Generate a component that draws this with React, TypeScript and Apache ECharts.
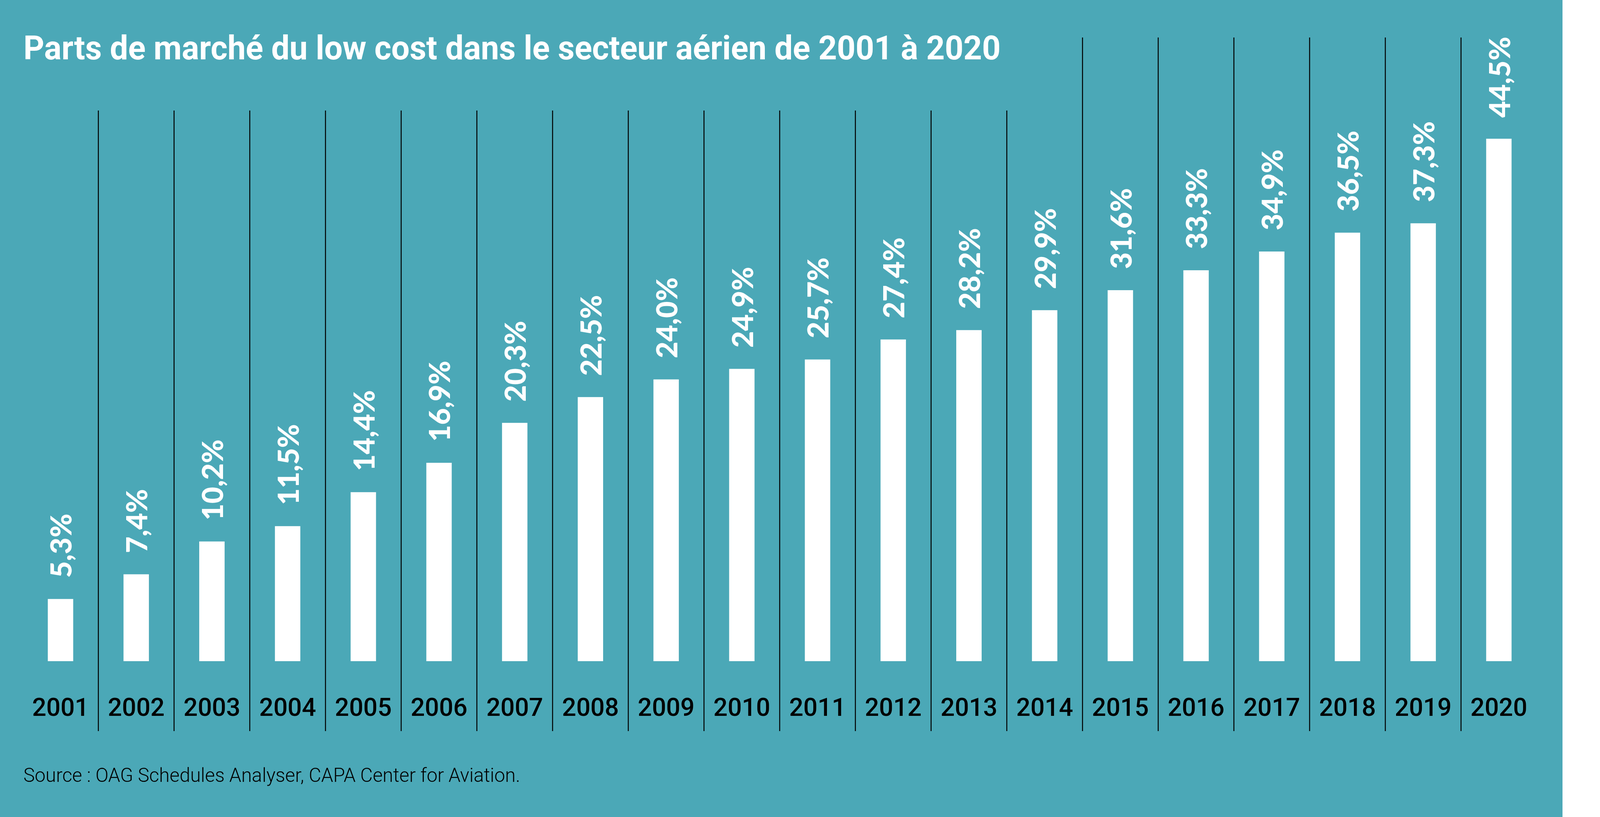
import React, { useEffect, useRef } from "react";
import * as echarts from "echarts";

const years = [
  "2001", "2002", "2003", "2004", "2005", "2006", "2007", "2008", "2009", "2010",
  "2011", "2012", "2013", "2014", "2015", "2016", "2017", "2018", "2019", "2020",
];
const shares = [
  5.3, 7.4, 10.2, 11.5, 14.4, 16.9, 20.3, 22.5, 24.0, 24.9,
  25.7, 27.4, 28.2, 29.9, 31.6, 33.3, 34.9, 36.5, 37.3, 44.5,
];
const titleText = "Parts de marché du low cost dans le secteur aérien de 2001 à 2020";
const sourceText = "Source : OAG Schedules Analyser, CAPA Center for Aviation.";
// separators sit on the left edge of each year after the first
const boundaries = years.slice(1).map((_, i) => [i + 1, 0]);
const TALL_FROM = 14; // separators right of the title reach higher

const TEAL = "#4ba8b7";

const TITLE_FONT = { fontFamily: "Roboto", fontWeight: "bold", fontSize: 86 };
const SOURCE_FONT = { fontFamily: "Roboto", fontWeight: 300, fontSize: 50 };

function fitScale(text: string, f: any, target: number): number {
  const ctx = document.createElement("canvas").getContext("2d");
  if (!ctx) return 1;
  ctx.font = `${f.fontWeight} ${f.fontSize}px ${f.fontFamily}`;
  const w = ctx.measureText(text).width;
  return w > 0 ? target / w : 1;
}

export default function App() {
  const ref = useRef<HTMLDivElement>(null);
  useEffect(() => {
    const chart = echarts.init(ref.current!, null, { renderer: "svg" });
    const titleScale = fitScale(titleText, TITLE_FONT, 2503);
    const sourceScale = fitScale(sourceText, SOURCE_FONT, 1272);
    chart.setOption({
      animation: false,
      backgroundColor: "#ffffff",
      graphic: [
        {
          type: "rect",
          z: -10,
          silent: true,
          shape: { x: 0, y: 0, width: 4000, height: 2092 },
          style: { fill: TEAL },
        },
        {
          type: "text",
          x: 60,
          y: 123,
          scaleX: titleScale,
          silent: true,
          style: {
            text: titleText,
            fill: "#ffffff",
            ...TITLE_FONT,
            align: "left",
            verticalAlign: "middle",
          },
        },
        {
          type: "text",
          x: 60,
          y: 1985,
          scaleX: sourceScale,
          silent: true,
          style: {
            text: sourceText,
            fill: "#000000",
            ...SOURCE_FONT,
            align: "left",
            verticalAlign: "middle",
          },
        },
      ],
      grid: { left: 58, width: 3876, top: 190, bottom: 399 },
      xAxis: {
        type: "category",
        data: years,
        axisLine: { show: false },
        axisTick: { show: false },
        splitLine: { show: false },
        axisLabel: {
          interval: 0,
          color: "#000000",
          fontFamily: "Roboto",
          fontWeight: 500,
          fontSize: 64,
          margin: 118,
          verticalAlign: "middle",
        },
      },
      yAxis: { type: "value", min: 0, max: 50, show: false },
      series: [
        {
          type: "bar",
          data: shares,
          barWidth: 65,
          z: 3,
          itemStyle: { color: "#ffffff" },
          label: {
            show: true,
            position: "top",
            distance: 54,
            rotate: 90,
            align: "left",
            verticalAlign: "middle",
            color: "#ffffff",
            fontFamily: "Lato",
            fontWeight: 900,
            fontSize: 74,
            formatter: (p: any) => p.value.toFixed(1).replace(".", ",") + "%",
          },
        },
        {
          type: "custom",
          data: boundaries,
          silent: true,
          encode: { x: 0, y: 1 },
          renderItem: (params: any, api: any) => {
            const idx = api.value(0);
            const c = api.coord([idx, 0]);
            const bw = api.size([1, 0])[0];
            const x = c[0] - bw / 2;
            const top = idx >= TALL_FROM ? 96 : 283;
            return {
              type: "line",
              shape: { x1: x, y1: top, x2: x, y2: 1872 },
              style: { stroke: "#000000", lineWidth: 2.5 },
            };
          },
        },
      ],
    });
    return () => chart.dispose();
  }, []);
  return (
    <div
      ref={ref}
      style={{ position: "absolute", left: 0, top: 0, width: 4250, height: 2092 }}
    />
  );
}
